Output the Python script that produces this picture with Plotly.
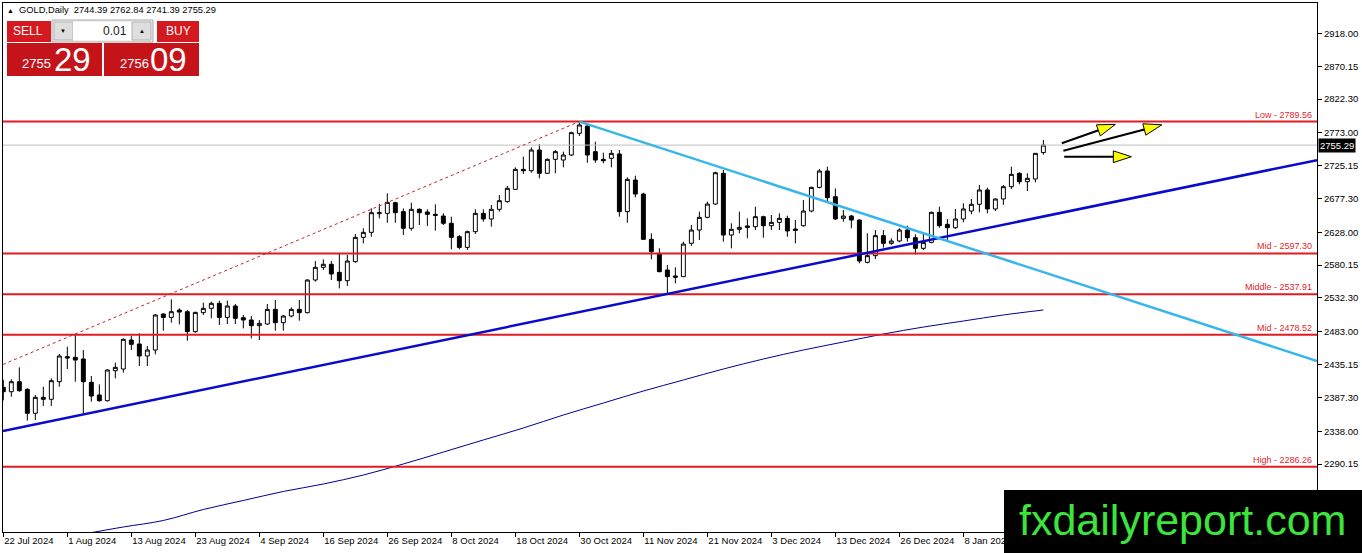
import plotly.graph_objects as go

# GOLD daily bars, one per weekday from 22 Jul 2024 to 22 Jan 2025 (x = bar number)
opens = [2402.0, 2395.6, 2410.2, 2399.1, 2364.1, 2387.4, 2384.5, 2410.2, 2446.7, 2445.7,
         2443.3, 2409.3, 2390.8, 2382.5, 2426.3, 2428.7, 2471.0, 2465.2, 2447.7, 2456.4,
         2508.9, 2504.0, 2514.7, 2512.3, 2483.2, 2510.9, 2517.2, 2524.5, 2504.0, 2520.6,
         2503.6, 2500.2, 2491.9, 2494.3, 2515.7, 2496.3, 2506.0, 2515.7, 2510.9, 2558.5,
         2577.0, 2581.4, 2569.7, 2557.5, 2585.2, 2620.7, 2628.0, 2655.2, 2655.7, 2671.3,
         2658.2, 2633.9, 2661.6, 2657.7, 2654.3, 2651.8, 2641.2, 2621.7, 2606.1, 2629.0,
         2655.7, 2647.5, 2661.6, 2672.8, 2690.7, 2719.9, 2717.9, 2748.1, 2714.1, 2734.5,
         2733.5, 2740.8, 2772.4, 2783.1, 2745.7, 2734.5, 2736.0, 2742.3, 2658.2, 2704.3,
         2683.9, 2617.8, 2597.4, 2573.1, 2564.4, 2563.4, 2612.0, 2631.4, 2649.9, 2669.3,
         2714.1, 2624.1, 2632.4, 2637.3, 2636.3, 2650.9, 2637.7, 2642.6, 2648.4, 2632.9,
         2637.7, 2659.1, 2693.6, 2717.5, 2680.0, 2648.4, 2651.8, 2646.0, 2584.3, 2594.0,
         2623.2, 2612.0, 2615.4, 2631.4, 2620.2, 2604.7, 2613.4, 2657.2, 2639.7, 2634.8,
         2647.5, 2659.1, 2668.9, 2689.8, 2662.1, 2676.7, 2694.6, 2714.1, 2701.9, 2705.8,
         2744.39]
highs = [2413.0, 2413.7, 2431.1, 2400.5, 2390.8, 2402.9, 2415.1, 2450.6, 2461.3, 2479.8,
         2456.4, 2418.5, 2406.3, 2428.2, 2437.9, 2473.4, 2477.3, 2480.7, 2462.3, 2508.9,
         2510.0, 2530.3, 2517.2, 2514.7, 2512.3, 2525.4, 2527.0, 2528.4, 2528.4, 2523.5,
         2507.5, 2506.0, 2500.2, 2523.5, 2529.3, 2507.5, 2518.6, 2529.3, 2559.5, 2586.2,
         2588.6, 2586.2, 2597.4, 2595.0, 2625.6, 2633.9, 2663.0, 2669.3, 2684.9, 2672.7,
         2663.0, 2671.3, 2663.0, 2661.6, 2668.9, 2655.7, 2650.8, 2624.1, 2630.5, 2661.6,
         2661.6, 2667.9, 2682.5, 2695.6, 2722.8, 2738.4, 2752.0, 2756.8, 2735.9, 2748.1,
         2745.7, 2774.8, 2789.56, 2786.0, 2760.2, 2744.2, 2748.1, 2748.1, 2708.2, 2710.7,
         2685.9, 2626.6, 2604.7, 2580.4, 2577.0, 2614.4, 2638.7, 2658.2, 2672.8, 2716.5,
         2718.9, 2641.2, 2658.2, 2648.4, 2665.5, 2652.3, 2653.3, 2655.7, 2652.3, 2646.0,
         2675.2, 2694.6, 2720.4, 2723.8, 2692.2, 2660.6, 2653.3, 2647.0, 2626.6, 2631.4,
         2631.4, 2619.3, 2633.9, 2637.7, 2625.1, 2626.6, 2658.2, 2665.5, 2647.5, 2662.1,
         2670.3, 2676.7, 2697.1, 2693.2, 2677.6, 2697.1, 2723.8, 2715.5, 2714.1, 2743.2,
         2762.84]
lows = [2383.0, 2388.3, 2395.6, 2353.4, 2354.3, 2374.8, 2374.8, 2402.9, 2428.7, 2410.2,
        2364.1, 2381.1, 2381.1, 2381.1, 2415.1, 2423.4, 2456.4, 2433.1, 2433.1, 2450.1,
        2484.6, 2496.3, 2493.8, 2470.0, 2481.5, 2507.5, 2502.6, 2492.9, 2494.3, 2494.3,
        2488.0, 2473.4, 2471.0, 2492.9, 2484.6, 2484.6, 2504.0, 2499.2, 2509.9, 2556.1,
        2573.1, 2558.5, 2546.3, 2549.8, 2583.8, 2612.0, 2621.7, 2648.4, 2642.1, 2642.1,
        2624.1, 2630.5, 2638.7, 2637.3, 2630.5, 2638.7, 2603.2, 2603.2, 2602.3, 2625.6,
        2643.6, 2636.3, 2658.2, 2671.3, 2689.8, 2713.1, 2715.0, 2706.8, 2713.1, 2714.1,
        2722.8, 2739.4, 2768.5, 2729.6, 2729.6, 2728.7, 2722.8, 2650.9, 2642.1, 2679.1,
        2616.8, 2588.6, 2569.7, 2538.1, 2553.7, 2563.0, 2608.1, 2616.8, 2648.4, 2667.9,
        2614.4, 2604.7, 2626.6, 2619.3, 2631.4, 2620.2, 2631.4, 2631.4, 2621.7, 2612.0,
        2636.3, 2657.2, 2692.2, 2673.7, 2646.0, 2643.6, 2633.9, 2582.8, 2582.8, 2589.1,
        2605.7, 2609.6, 2613.4, 2614.4, 2595.9, 2602.3, 2612.0, 2634.8, 2616.8, 2632.9,
        2642.6, 2654.3, 2657.2, 2655.7, 2659.1, 2668.0, 2691.2, 2698.0, 2688.3, 2700.9,
        2741.39]
closes = [2395.6, 2410.2, 2397.1, 2364.1, 2387.4, 2384.5, 2411.7, 2447.7, 2444.8, 2441.8,
          2410.2, 2389.3, 2382.5, 2427.3, 2431.1, 2472.0, 2464.7, 2447.7, 2456.4, 2507.5,
          2504.0, 2512.3, 2511.8, 2483.2, 2511.3, 2517.2, 2524.5, 2504.0, 2520.6, 2502.6,
          2500.2, 2491.9, 2495.3, 2515.7, 2496.3, 2506.0, 2515.7, 2510.9, 2558.5, 2577.0,
          2581.4, 2567.3, 2557.5, 2586.2, 2620.7, 2628.0, 2656.7, 2656.7, 2671.8, 2656.7,
          2633.9, 2661.6, 2656.7, 2654.3, 2652.8, 2641.2, 2620.7, 2606.1, 2629.0, 2655.7,
          2647.5, 2661.6, 2674.2, 2692.2, 2719.9, 2717.9, 2748.1, 2714.1, 2734.5, 2745.7,
          2740.8, 2773.4, 2784.6, 2740.8, 2733.5, 2732.5, 2743.2, 2658.2, 2705.3, 2683.9,
          2617.8, 2599.8, 2570.7, 2563.4, 2562.4, 2611.0, 2631.4, 2649.9, 2669.3, 2715.0,
          2624.1, 2632.4, 2635.3, 2635.3, 2650.9, 2637.7, 2642.6, 2648.4, 2630.0, 2630.9,
          2659.1, 2693.6, 2717.5, 2678.6, 2647.5, 2651.8, 2646.0, 2586.2, 2594.0, 2623.2,
          2612.0, 2615.4, 2631.4, 2620.2, 2604.7, 2613.4, 2657.2, 2637.7, 2634.8, 2647.5,
          2662.1, 2668.9, 2689.8, 2662.1, 2676.7, 2694.6, 2712.6, 2701.9, 2706.8, 2743.2,
          2755.29]

# axis labels (one date label every 8 bars)
date_labels = ["22 Jul 2024", "1 Aug 2024", "13 Aug 2024", "23 Aug 2024", "4 Sep 2024",
               "16 Sep 2024", "26 Sep 2024", "8 Oct 2024", "18 Oct 2024", "30 Oct 2024",
               "11 Nov 2024", "21 Nov 2024", "3 Dec 2024", "13 Dec 2024", "26 Dec 2024",
               "8 Jan 2025"]
price_ticks = [2918.00, 2870.15, 2822.30, 2773.00, 2725.15, 2677.30, 2628.00, 2580.15,
               2532.30, 2483.00, 2435.15, 2387.30, 2338.00, 2290.15]

# horizontal levels
level_names = ["Low", "Mid", "Middle", "Mid", "High"]
level_prices = [2789.56, 2597.30, 2537.91, 2478.52, 2286.26]
last_price = 2755.29

# moving average, every 5 bars
ma_bars = [10, 15, 20, 25, 30, 35, 40, 45, 50, 55, 60, 65, 70, 75, 80, 85, 90, 95,
           100, 105, 110, 115, 120, 125, 130]
ma_values = [2188.0, 2198.3, 2207.8, 2223.8, 2237.0, 2250.1, 2261.0, 2274.1, 2290.2,
             2307.6, 2325.2, 2342.7, 2361.6, 2379.1, 2396.6, 2412.7, 2428.7, 2443.3,
             2456.4, 2468.1, 2479.7, 2489.9, 2498.7, 2507.5, 2514.8]

# trendline anchors (bar, price)
support_pts = [(0, 2338.5), (83, 2538.1)]
resist_pts = [(72, 2789.56), (111.5, 2640.0)]
channel_pts = [(9, 2479.8), (72, 2789.56)]

# arrows drawn on the chart: (bar, price) start -> tip
arrows = [((132.3, 2757.9), (139.0, 2785.5)),
          ((132.5, 2747.1), (144.8, 2784.8)),
          ((132.6, 2738.3), (141.0, 2738.3))]

X_MIN, X_MAX = -0.04, 164.2
Y_MIN, Y_MAX = 2191.0, 2962.5
FONT = "Liberation Sans"

W, H = 1362, 553
ML, MR, MT, MB = 3, 45, 3, 21
PW, PH = W - ML - MR, H - MT - MB


def px(x):
    return (x - ML) / PW


def py(y):
    return (H - MB - y) / PH


def ray(pts, x0, x1):
    (a, pa), (b, pb) = pts
    k = (pb - pa) / (b - a)
    return [x0, x1], [pa + k * (x0 - a), pa + k * (x1 - a)]


fig = go.Figure()

fig.add_trace(go.Scatter(x=[X_MIN, X_MAX], y=[last_price, last_price], mode="lines",
                         line=dict(color="#c0c0c0", width=1), hoverinfo="skip"))
fig.add_trace(go.Scatter(x=ma_bars, y=ma_values, mode="lines", line_shape="spline",
                         line=dict(color="#000090", width=1), hoverinfo="skip"))

fig.add_trace(go.Candlestick(
    x=list(range(len(opens))), open=opens, high=highs, low=lows, close=closes,
    increasing=dict(line=dict(color="black", width=1), fillcolor="white"),
    decreasing=dict(line=dict(color="black", width=1), fillcolor="black"),
    whiskerwidth=0, hoverinfo="skip"))

for p in level_prices:
    fig.add_trace(go.Scatter(x=[X_MIN, X_MAX], y=[p, p], mode="lines",
                             line=dict(color="#e01b22", width=2), hoverinfo="skip"))

cx, cy = ray(channel_pts, X_MIN, channel_pts[1][0])
fig.add_trace(go.Scatter(x=cx, y=cy, mode="lines",
                         line=dict(color="#c0282d", width=1, dash="dot"), hoverinfo="skip"))
sx, sy = ray(support_pts, X_MIN, X_MAX)
fig.add_trace(go.Scatter(x=sx, y=sy, mode="lines",
                         line=dict(color="#0a0acc", width=2.5), hoverinfo="skip"))
rx, ry = ray(resist_pts, resist_pts[0][0], X_MAX)
fig.add_trace(go.Scatter(x=rx, y=ry, mode="lines",
                         line=dict(color="#38b6ea", width=2.5), hoverinfo="skip"))

for (s, t) in arrows:
    fig.add_trace(go.Scatter(
        x=[s[0], t[0]], y=[s[1], t[1]], mode="lines+markers",
        line=dict(color="black", width=2),
        marker=dict(symbol="arrow", size=19, angleref="previous", color="#ffff00",
                    opacity=[0, 1], line=dict(color="black", width=1)),
        hoverinfo="skip"))

shapes = []
annotations = []


def box(x0, y0, x1, y1, fill, line=None, lw=0):
    shapes.append(dict(type="rect", xref="paper", yref="paper", layer="above",
                       x0=px(x0), x1=px(x1), y0=py(y1), y1=py(y0), fillcolor=fill,
                       line=dict(color=line or fill, width=lw)))


def text(x, y, s, size, color, anchor="center", family=FONT):
    annotations.append(dict(xref="paper", yref="paper", x=px(x), y=py(y), text=s,
                            showarrow=False, xanchor=anchor, yanchor="middle",
                            font=dict(size=size, color=color, family=family)))


# header line
text(5, 10, "▲", 7, "black", "left")
text(17, 10, "GOLD,Daily  2744.39 2762.84 2741.39 2755.29", 9.3, "black", "left")

# one click trading panel
box(7, 21, 51, 42, "#d41a1f")
box(52, 20, 153, 42, "#f0f0f0", "#a8a8a8", 1)
box(54, 22, 73, 40, "#dedede", "#b4b4b4", 1)
box(73, 22, 132, 40, "white")
box(132, 22, 151, 40, "#dedede", "#b4b4b4", 1)
box(157, 21, 199, 42, "#d41a1f")
box(7, 43, 102, 76, "#c4141a")
box(104, 43, 199, 76, "#c4141a")
text(28, 31, "SELL", 12, "white")
text(63, 31, "▼", 6, "black")
text(129, 31, "0.01", 12, "#202020", "right")
text(142, 31, "▲", 6, "black")
text(178, 31, "BUY", 12, "white")
text(36, 64, "2755", 13, "white")
text(72, 59, "29", 33, "white")
text(134, 64, "2756", 13, "white")
text(168, 59, "09", 33, "white")

# level labels
for name, p in zip(level_names, level_prices):
    annotations.append(dict(xref="paper", yref="y", x=px(1314), y=p, yanchor="bottom",
                            xanchor="right", showarrow=False, text=f"{name} - {p:.2f}",
                            font=dict(size=9, color="#e0262b", family=FONT)))

# current price tag
annotations.append(dict(xref="paper", yref="y", x=px(1318), y=last_price, xanchor="left",
                        yanchor="middle", showarrow=False, text=f"{last_price:.2f}",
                        bgcolor="black", borderpad=1,
                        font=dict(size=9.5, color="white", family=FONT)))

# watermark
box(1004, 490, 1362, 553, "black")
text(1182, 520, "fxdailyreport.com", 43, "#3ce43c")

fig.update_layout(
    width=W, height=H, margin=dict(l=ML, r=MR, t=MT, b=MB),
    plot_bgcolor="white", paper_bgcolor="white", showlegend=False,
    font=dict(family=FONT, size=9.5, color="black"),
    shapes=shapes, annotations=annotations,
    xaxis=dict(range=[X_MIN, X_MAX], rangeslider=dict(visible=False),
               tickvals=list(range(0, 8 * len(date_labels), 8)), ticktext=date_labels,
               ticks="outside", ticklen=4, tickcolor="black", ticklabelposition="outside right",
               showgrid=False, zeroline=False, showline=True, linecolor="black",
               linewidth=1, mirror=True),
    yaxis=dict(range=[Y_MIN, Y_MAX], side="right", tickvals=price_ticks,
               ticktext=[f"{v:.2f}" for v in price_ticks], ticks="outside", ticklen=4,
               tickcolor="black", showgrid=False, zeroline=False, showline=True,
               linecolor="black", linewidth=1, mirror=True),
)

# page has a default body margin; drop it so the figure sits at the window corner
fig.write_html("out.html", config={"displayModeBar": False},
               post_script="document.body.style.margin = '0';")
